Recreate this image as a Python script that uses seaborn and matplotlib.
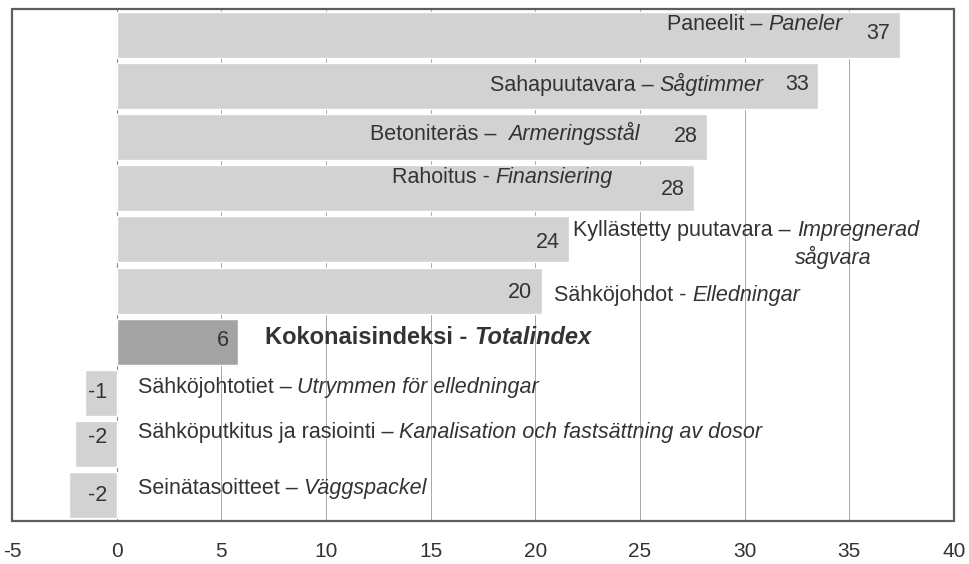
"""Horizontal bar chart of price index changes (Finnish / Swedish labels)."""

import matplotlib
matplotlib.use("Agg")
import matplotlib.pyplot as plt
from matplotlib.patches import Rectangle
import seaborn as sns

# data (top to bottom)
categories = [
    "Paneelit", "Sahapuutavara", "Betoniteräs", "Rahoitus", "Kyllästetty puutavara",
    "Sähköjohdot", "Kokonaisindeksi", "Sähköjohtotiet", "Sähköputkitus ja rasiointi",
    "Seinätasoitteet",
]
values = [37.4, 33.5, 28.2, 27.6, 21.6, 20.3, 5.8, -1.5, -2.0, -2.3]
value_labels = ["37", "33", "28", "28", "24", "20", "6", "-1", "-2", "-2"]
names_fi = [
    "Paneelit – ", "Sahapuutavara – ", "Betoniteräs –  ", "Rahoitus - ",
    "Kyllästetty puutavara – ", "Sähköjohdot - ", "Kokonaisindeksi - ",
    "Sähköjohtotiet – ", "Sähköputkitus ja rasiointi – ", "Seinätasoitteet – ",
]
names_sv = [
    "Paneler", "Sågtimmer", "Armeringsstål", "Finansiering", "Impregnerad",
    "Elledningar", "Totalindex", "Utrymmen för elledningar",
    "Kanalisation och fastsättning av dosor", "Väggspackel",
]
total_name = "Kokonaisindeksi"

# layout for the name labels: (x anchor, alignment, y offset)
name_pos = [
    (34.7, "right", -0.19), (30.9, "right", -0.02), (25.0, "right", -0.06),
    (23.7, "right", -0.20), (21.8, "left", -0.18), (20.9, "left", 0.10),
    (7.1, "left", -0.08), (1.0, "left", -0.10), (1.0, "left", -0.23),
    (1.0, "left", -0.14),
]
num_dy = [-0.03, -0.03, 0.0, 0.02, 0.06, 0.03, -0.03, 0.0, -0.14, 0.0]

TXT = "#333333"
FS = 15.5
FS_BOLD = 17

sns.set_theme(style="white")
plt.rcParams["font.family"] = ["Liberation Sans", "DejaVu Sans"]

fig = plt.figure(figsize=(9.69, 5.64), dpi=100)
ax = fig.add_axes([12 / 969, 1 - 521 / 564, (954 - 12) / 969, (521 - 9) / 564])

colors = ["#a3a3a3" if c == total_name else "#d2d2d2" for c in categories]
sns.barplot(x=values, y=categories, hue=categories, palette=colors, orient="h",
            width=0.9, legend=False, ax=ax, zorder=2, saturation=1)

ax.set_xlim(-5, 40)
ax.set_ylim(9.5, -0.5)
ax.set_xticks(range(-5, 41, 5))
ax.set_xticklabels([str(v) for v in range(-5, 41, 5)], fontsize=15, color=TXT)
for v in range(5, 40, 5):
    ax.axvline(v, color="#a8a8a8", lw=0.7, zorder=1)

# y axis sits at x = 0 with ticks between categories
ax.spines["left"].set_position(("data", 0))
ax.spines["left"].set_color("#8a8a8a")
ax.spines["left"].set_linewidth(0.8)
ax.spines["left"].set_zorder(1)
ax.set_yticks([i + 0.5 for i in range(9)])
ax.set_yticklabels([])
ax.tick_params(axis="y", length=6, width=0.8, color="#8a8a8a", direction="out")
ax.tick_params(axis="x", length=7, width=0.8, color="#8a8a8a", direction="out", pad=8)
for s in ["top", "right", "bottom"]:
    ax.spines[s].set_visible(False)
ax.add_patch(Rectangle((0, 0), 1, 1, transform=ax.transAxes, fill=False,
                       ec="#5e5e5e", lw=1.6, zorder=5, clip_on=False))
ax.set_xlabel("")
ax.set_ylabel("")

for i, (val, lab) in enumerate(zip(values, value_labels)):
    ax.text(max(val, 0) - 0.45, i + num_dy[i], lab, ha="right", va="center",
            fontsize=FS, color=TXT, zorder=4)

for i, (fi, sv) in enumerate(zip(names_fi, names_sv)):
    x, ha, dy = name_pos[i]
    bold = categories[i] == total_name
    weight = "bold" if bold else "normal"
    fs = FS_BOLD if bold else FS
    if ha == "right":
        t2 = ax.text(x, i + dy, sv, ha="right", va="center", fontsize=fs,
                     color=TXT, style="italic", weight=weight, zorder=4)
        ax.annotate(fi, xy=(0, 0), xycoords=t2, ha="right", va="bottom",
                    fontsize=fs, color=TXT, weight=weight, zorder=4)
    else:
        t1 = ax.text(x, i + dy, fi, ha="left", va="center", fontsize=fs,
                     color=TXT, weight=weight, zorder=4)
        ax.annotate(sv, xy=(1, 0), xycoords=t1, ha="left", va="bottom",
                    fontsize=fs, color=TXT, style="italic", weight=weight, zorder=4)

# second line of the impregnated timber label
ax.text(32.4, 4 + 0.35, "sågvara", ha="left", va="center", fontsize=FS,
        color=TXT, style="italic", zorder=4)

fig.savefig("out.png", dpi=100)
